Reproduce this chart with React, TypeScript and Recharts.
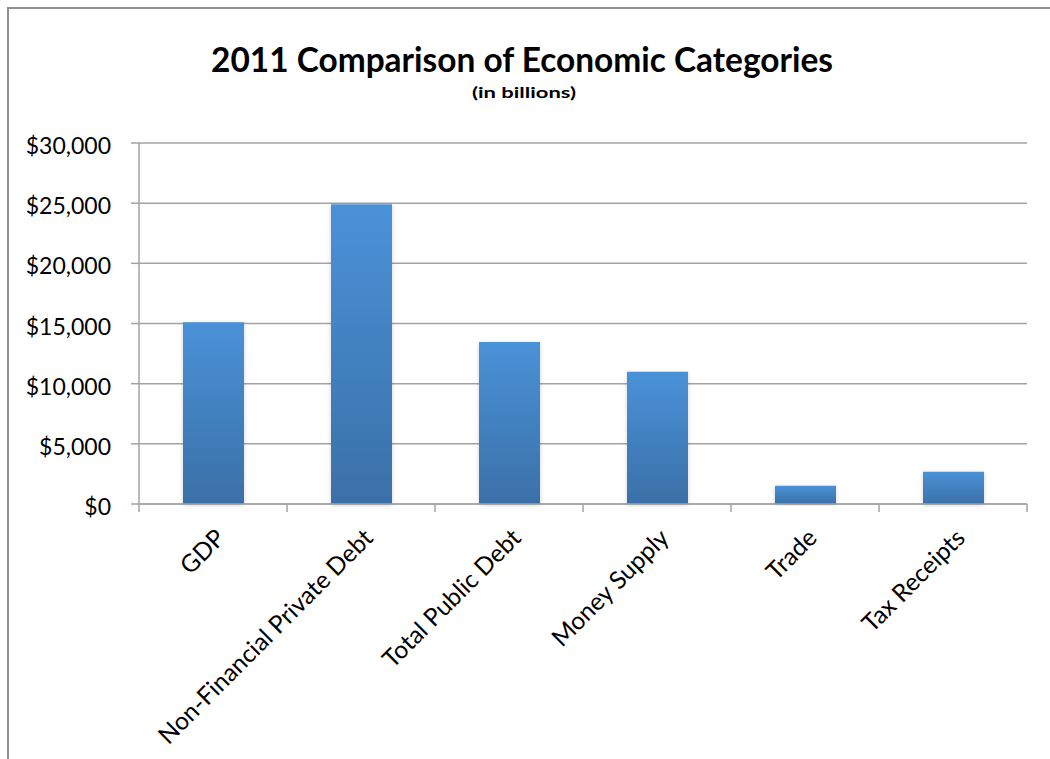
import React from 'react';
import { BarChart, Bar, XAxis, YAxis, CartesianGrid } from 'recharts';

const categories = [
  'GDP',
  'Non-Financial Private Debt',
  'Total Public Debt',
  'Money Supply',
  'Trade',
  'Tax Receipts',
];
const values = [15100, 24900, 13470, 10980, 1520, 2680];
const yTicks = [0, 5000, 10000, 15000, 20000, 25000, 30000];
const title = '2011 Comparison of Economic Categories';
const subtitle = '(in billions)';

const data = categories.map((c, i) => ({ category: c, value: values[i] }));

const W = 1050;
const H = 759;
const M = { top: 143, right: 23, bottom: 1, left: 0 };
const Y_W = 139;
const X_H = 254;
const plotW = W - M.left - M.right - Y_W;
const band = plotW / categories.length;
const FONT = "Lato, 'Open Sans', sans-serif";
const GRID = '#a3a3a3';

const fmt = (v: number) => '$' + v.toLocaleString('en-US');

const XTick = (props: any) => {
  const { x, y, payload } = props;
  const half = band / 2;
  const isLast = payload.value === categories[categories.length - 1];
  return (
    <g>
      <line x1={x - half} y1={y} x2={x - half} y2={y + 8} stroke={GRID} strokeWidth={1.5} />
      {isLast && <line x1={x + half} y1={y} x2={x + half} y2={y + 8} stroke={GRID} strokeWidth={1.5} />}
      <g transform={`translate(${x + 1},${y + 23}) rotate(-45)`}>
        <text textAnchor="end" dy="0.72em" fontSize={24.5} fontFamily={FONT} fill="#000">
          {payload.value}
        </text>
      </g>
    </g>
  );
};

const YTick = (props: any) => {
  const { x, y, payload } = props;
  return (
    <text x={x} y={y} dy={11} textAnchor="end" fontSize={23} fontFamily={FONT} fill="#000">
      {fmt(payload.value)}
    </text>
  );
};

export default function App() {
  return (
    <div style={{ position: 'absolute', left: 0, top: 0, width: W, height: H, background: '#fff' }}>
      <svg width={0} height={0} style={{ position: 'absolute' }}>
        <defs>
          <linearGradient id="barGrad" x1="0" y1="0" x2="0" y2="1">
            <stop offset="0%" stopColor="#4A92D8" />
            <stop offset="100%" stopColor="#3A70A7" />
          </linearGradient>
          <filter id="barShadow" x="-20%" y="-10%" width="140%" height="120%">
            <feDropShadow dx="0" dy="1" stdDeviation="2" floodColor="#000" floodOpacity="0.18" />
          </filter>
        </defs>
      </svg>
      <BarChart width={W} height={H} data={data} margin={M}>
        <CartesianGrid vertical={false} stroke={GRID} strokeWidth={1.5} />
        <YAxis
          width={Y_W}
          domain={[0, 30000]}
          ticks={yTicks}
          interval={0}
          tickSize={8}
          tickMargin={20}
          axisLine={{ stroke: GRID, strokeWidth: 1.5 }}
          tickLine={{ stroke: GRID, strokeWidth: 1.5 }}
          tick={YTick}
        />
        <XAxis
          dataKey="category"
          height={X_H}
          interval={0}
          tickSize={0}
          tickMargin={0}
          tickLine={false}
          axisLine={{ stroke: GRID, strokeWidth: 1.5 }}
          tick={XTick}
        />
        <Bar
          dataKey="value"
          barSize={61}
          fill="url(#barGrad)"
          isAnimationActive={false}
          style={{ filter: 'url(#barShadow)' }}
        />
      </BarChart>
      <svg
        width={W}
        height={H}
        style={{ position: 'absolute', left: 0, top: 0, pointerEvents: 'none' }}
      >
        <line x1={8} y1={7} x2={8} y2={H} stroke="#8f8f8f" strokeWidth={2} />
        <line x1={7} y1={8} x2={W} y2={8} stroke="#8f8f8f" strokeWidth={2} />
        <text
          x={522}
          y={72}
          textAnchor="middle"
          fontSize={35}
          fontWeight="bold"
          fontFamily={FONT}
          fill="#000"
          textLength={622}
          lengthAdjust="spacingAndGlyphs"
        >
          {title}
        </text>
        <text
          x={524}
          y={98}
          textAnchor="middle"
          fontSize={15}
          fontWeight="bold"
          fontFamily={FONT}
          fill="#000"
          textLength={104}
          lengthAdjust="spacingAndGlyphs"
        >
          {subtitle}
        </text>
      </svg>
    </div>
  );
}
